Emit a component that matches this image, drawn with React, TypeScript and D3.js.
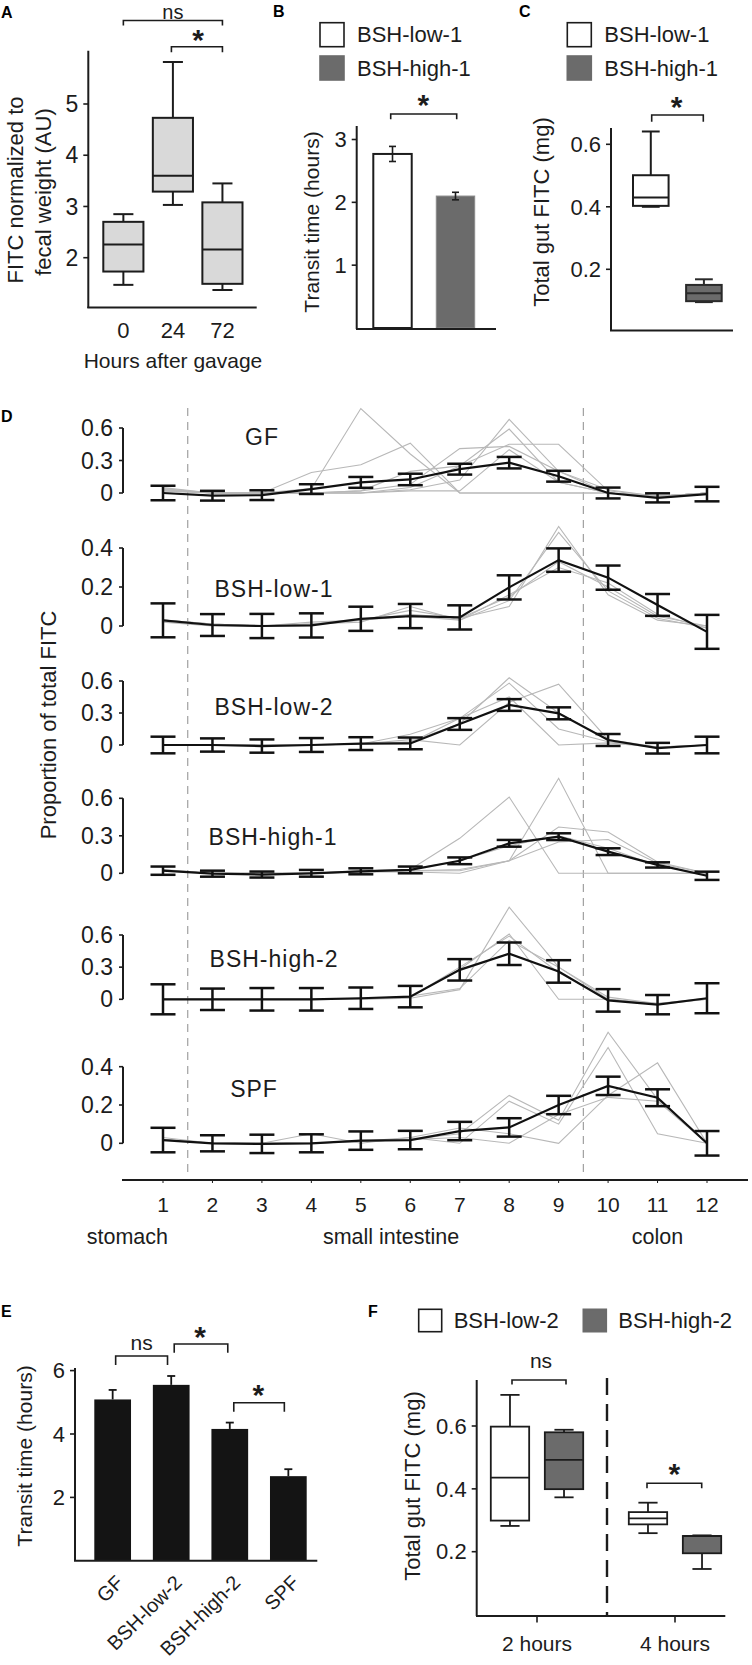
import React from "react";
import * as d3 from "d3";

const FONT = "'Liberation Sans', Arial, Helvetica, sans-serif";
const INK = "#1c1c1c";
const DARK_GRAY = "#6b6b6b";
const LIGHT_FILL = "#d9d9d9";
const MOUSE_GRAY = "#b8b8b8";

// ---------- Panel A ----------
const aHours = ["0", "24", "72"];
const aMin = [1.47, 3.03, 1.37];
const aQ1 = [1.73, 3.29, 1.49];
const aMedian = [2.26, 3.6, 2.16];
const aQ3 = [2.7, 4.73, 3.08];
const aMax = [2.85, 5.82, 3.45];
const aTicks = [2, 3, 4, 5];

// ---------- Panel B ----------
const bGroups = ["BSH-low-1", "BSH-high-1"];
const bMean = [2.77, 2.1];
const bSem = [0.12, 0.06];
const bTicks = [1, 2, 3];

// ---------- Panel C ----------
const cMin = [0.4, 0.095];
const cQ1 = [0.403, 0.098];
const cMedian = [0.43, 0.123];
const cQ3 = [0.501, 0.15];
const cMax = [0.641, 0.168];
const cTicks = [0.2, 0.4, 0.6];

// ---------- Panel D ----------
const segments = [1, 2, 3, 4, 5, 6, 7, 8, 9, 10, 11, 12];
const regionLabels = ["stomach", "small intestine", "colon"];
const dGroups = ["GF", "BSH-low-1", "BSH-low-2", "BSH-high-1", "BSH-high-2", "SPF"];
const dTicks = [
  [0, 0.3, 0.6],
  [0, 0.2, 0.4],
  [0, 0.3, 0.6],
  [0, 0.3, 0.6],
  [0, 0.3, 0.6],
  [0, 0.2, 0.4],
];

const gfMean = [0.0, -0.025, -0.02, 0.036, 0.098, 0.125, 0.22, 0.28, 0.155, 0.0, -0.045, -0.01];
const gfErr = [0.067, 0.045, 0.045, 0.045, 0.05, 0.053, 0.05, 0.053, 0.05, 0.05, 0.042, 0.067];
const gfMice = [
  [0.04, 0.0, 0.0, 0.04, 0.78, 0.36, 0.0, 0.0, 0.0, 0.0, -0.03, 0.0],
  [0.02, 0.0, 0.0, 0.19, 0.26, 0.46, 0.0, 0.0, 0.0, 0.0, -0.03, 0.0],
  [0.03, 0.0, 0.0, 0.0, 0.0, 0.03, 0.12, 0.68, 0.2, 0.0, -0.03, 0.0],
  [0.02, 0.0, 0.0, 0.0, 0.0, 0.05, 0.25, 0.59, 0.1, 0.0, -0.03, 0.0],
  [0.05, 0.0, 0.0, 0.0, 0.02, 0.08, 0.41, 0.43, 0.2, 0.03, -0.03, 0.0],
  [0.03, 0.0, 0.0, 0.0, 0.02, 0.2, 0.25, 0.45, 0.45, 0.02, -0.03, 0.0],
  [0.03, 0.0, 0.0, 0.0, 0.0, 0.02, 0.02, 0.4, 0.1, 0.0, -0.03, 0.0],
];

const low1Mean = [0.029, 0.005, 0.0, 0.003, 0.037, 0.051, 0.044, 0.198, 0.338, 0.248, 0.108, -0.03];
const low1Err = [0.087, 0.056, 0.062, 0.062, 0.062, 0.062, 0.062, 0.062, 0.06, 0.062, 0.056, 0.087];
const low1Mice = [
  [0.03, 0.01, 0.0, 0.01, 0.03, 0.08, 0.04, 0.1, 0.51, 0.16, 0.03, 0.0],
  [0.03, 0.01, 0.0, 0.01, 0.02, 0.1, 0.03, 0.13, 0.48, 0.18, 0.04, -0.01],
  [0.03, 0.01, 0.0, 0.01, 0.03, 0.06, 0.04, 0.15, 0.33, 0.2, 0.05, 0.0],
  [0.02, 0.0, 0.0, 0.02, 0.03, 0.05, 0.03, 0.16, 0.3, 0.22, 0.06, -0.01],
];

const low2Mean = [0.0, 0.0, -0.01, 0.0, 0.013, 0.015, 0.197, 0.375, 0.297, 0.047, -0.03, 0.0];
const low2Err = [0.078, 0.062, 0.062, 0.065, 0.06, 0.055, 0.055, 0.055, 0.056, 0.056, 0.05, 0.078];
const low2Mice = [
  [0.0, 0.0, 0.0, 0.0, 0.01, 0.03, 0.2, 0.63, 0.3, 0.05, -0.02, 0.0],
  [0.0, 0.0, 0.0, 0.0, 0.01, 0.02, 0.25, 0.58, 0.15, 0.03, -0.02, 0.0],
  [0.0, 0.0, 0.0, 0.0, 0.01, 0.05, 0.0, 0.4, 0.57, 0.05, -0.03, 0.0],
  [0.0, 0.0, 0.0, 0.0, 0.01, 0.1, 0.25, 0.45, 0.0, 0.02, -0.02, 0.0],
];

const high1Mean = [0.021, -0.003, -0.01, 0.0, 0.016, 0.027, 0.1, 0.24, 0.293, 0.173, 0.067, -0.02];
const high1Err = [0.033, 0.024, 0.024, 0.027, 0.024, 0.027, 0.027, 0.027, 0.027, 0.027, 0.021, 0.033];
const high1Mice = [
  [0.03, 0.0, 0.0, 0.0, 0.02, 0.03, 0.28, 0.61, 0.0, 0.0, 0.0, 0.0],
  [0.02, 0.0, 0.0, 0.0, 0.01, 0.02, 0.03, 0.1, 0.76, 0.0, 0.0, 0.0],
  [0.02, 0.0, 0.0, 0.0, 0.01, 0.02, 0.02, 0.1, 0.37, 0.33, 0.09, 0.0],
  [0.02, 0.0, 0.0, 0.0, 0.01, 0.01, 0.0, 0.1, 0.25, 0.27, 0.08, 0.0],
  [0.02, 0.0, -0.01, 0.0, 0.02, 0.03, 0.1, 0.22, 0.3, 0.2, 0.06, -0.01],
];

const high2Mean = [0.0, 0.0, 0.0, 0.0, 0.01, 0.025, 0.275, 0.425, 0.26, -0.01, -0.05, 0.01];
const high2Err = [0.14, 0.1, 0.105, 0.105, 0.1, 0.1, 0.1, 0.105, 0.105, 0.105, 0.09, 0.14];
const high2Mice = [
  [0.0, 0.0, 0.0, 0.0, 0.0, 0.01, 0.09, 0.86, 0.3, 0.0, -0.04, 0.0],
  [0.0, 0.0, 0.0, 0.0, 0.0, 0.02, 0.28, 0.61, 0.0, 0.0, -0.04, 0.0],
  [0.0, 0.0, 0.0, 0.0, 0.01, 0.02, 0.3, 0.59, 0.25, 0.0, -0.05, 0.0],
  [0.0, 0.0, 0.0, 0.0, 0.0, 0.03, 0.1, 0.55, 0.3, 0.02, -0.04, 0.01],
];

const spfMean = [0.017, 0.0, -0.003, 0.0, 0.014, 0.017, 0.064, 0.083, 0.2, 0.3, 0.238, 0.0];
const spfErr = [0.064, 0.042, 0.048, 0.047, 0.048, 0.048, 0.048, 0.048, 0.048, 0.048, 0.044, 0.064];
const spfMice = [
  [0.03, 0.0, 0.0, 0.0, 0.01, 0.02, 0.05, 0.25, 0.12, 0.58, 0.23, 0.0],
  [0.02, 0.0, 0.0, 0.05, 0.0, 0.03, 0.0, 0.22, 0.1, 0.5, 0.05, 0.0],
  [0.02, 0.0, 0.0, 0.0, 0.01, 0.03, 0.08, 0.05, 0.0, 0.25, 0.42, 0.0],
  [0.02, 0.0, 0.0, 0.0, 0.01, 0.02, 0.03, 0.0, 0.15, 0.24, 0.22, 0.0],
];

const dMeans = [gfMean, low1Mean, low2Mean, high1Mean, high2Mean, spfMean];
const dErrs = [gfErr, low1Err, low2Err, high1Err, high2Err, spfErr];
const dMice = [gfMice, low1Mice, low2Mice, high1Mice, high2Mice, spfMice];

// ---------- Panel E ----------
const eGroups = ["GF", "BSH-low-2", "BSH-high-2", "SPF"];
const eMean = [5.09, 5.55, 4.16, 2.67];
const eSem = [0.3, 0.28, 0.2, 0.22];
const eTicks = [2, 4, 6];

// ---------- Panel F ----------
const fTimes = ["2 hours", "4 hours"];
const fGroups = ["BSH-low-2", "BSH-high-2"];
const fLowMin = [0.282, 0.259];
const fLowQ1 = [0.299, 0.287];
const fLowMedian = [0.436, 0.306];
const fLowQ3 = [0.598, 0.326];
const fLowMax = [0.699, 0.356];
const fHighMin = [0.373, 0.145];
const fHighQ1 = [0.399, 0.195];
const fHighMedian = [0.492, 0.25];
const fHighQ3 = [0.58, 0.25];
const fHighMax = [0.588, 0.252];
const fTicks = [0.2, 0.4, 0.6];

// ---------- layout ----------
const dLayout = [
  { zero: 493, top: 428, lx: 262, ly: 437 },
  { zero: 626, top: 548, lx: 274, ly: 589 },
  { zero: 745, top: 681, lx: 274, ly: 707 },
  { zero: 873.3, top: 798.3, lx: 273, ly: 837 },
  { zero: 999.3, top: 935, lx: 274, ly: 959 },
  { zero: 1143.3, top: 1066.7, lx: 254, ly: 1089 },
];

const T = (props: any) => (
  <text fontFamily={FONT} fill={INK} {...props} />
);

const PanelLetter = ({ x, y, c }: any) => (
  <text x={x} y={y} fontFamily={FONT} fontWeight="bold" fontSize={16} fill="#000">
    {c}
  </text>
);

const Star = ({ x, y }: any) => (
  <text x={x} y={y + 17} textAnchor="middle" fontFamily={FONT} fontWeight="bold" fontSize={30} fill={INK}>
    *
  </text>
);

const Bracket = ({ x1, x2, y, h }: any) => (
  <path d={`M${x1},${y + h}V${y}H${x2}V${y + h}`} fill="none" stroke={INK} strokeWidth={1.6} />
);

const YAxis = ({ x, y1, y2, scale, ticks, fmt, fontSize = 22, tick = 5, gap = 5 }: any) => (
  <g>
    <line x1={x} x2={x} y1={y1} y2={y2} stroke={INK} strokeWidth={2} />
    {ticks.map((t: number) => (
      <g key={t}>
        <line x1={x - tick} x2={x} y1={scale(t)} y2={scale(t)} stroke={INK} strokeWidth={1.6} />
        <T x={x - tick - gap} y={scale(t)} dy="0.35em" textAnchor="end" fontSize={fontSize}>
          {fmt ? fmt(t) : t}
        </T>
      </g>
    ))}
  </g>
);

const Box = ({ cx, w, lo, q1, med, q3, hi, fill, stroke = INK, sw = 2 }: any) => (
  <g>
    <line x1={cx} x2={cx} y1={hi} y2={q3} stroke={stroke} strokeWidth={sw} />
    <line x1={cx} x2={cx} y1={q1} y2={lo} stroke={stroke} strokeWidth={sw} />
    <line x1={cx - w * 0.25} x2={cx + w * 0.25} y1={hi} y2={hi} stroke={stroke} strokeWidth={sw} />
    <line x1={cx - w * 0.25} x2={cx + w * 0.25} y1={lo} y2={lo} stroke={stroke} strokeWidth={sw} />
    <rect x={cx - w / 2} y={q3} width={w} height={Math.max(q1 - q3, 0.5)} fill={fill} stroke={stroke} strokeWidth={sw} />
    <line x1={cx - w / 2} x2={cx + w / 2} y1={med} y2={med} stroke={stroke} strokeWidth={sw} />
  </g>
);

function PanelA() {
  const x = d3.scaleBand<string>().domain(aHours).range([103.3, 242.5]).paddingInner(0.19);
  const y = d3.scaleLinear().domain([2, 5]).range([257.7, 104]);
  const bw = x.bandwidth();
  const cx = (h: string) => (x(h) as number) + bw / 2;
  return (
    <g>
      <PanelLetter x={1} y={18} c="A" />
      <YAxis x={88.3} y1={50.7} y2={308} scale={y} ticks={aTicks} fontSize={23} />
      <line x1={87.3} x2={256.7} y1={307.5} y2={307.5} stroke={INK} strokeWidth={2} />
      {aHours.map((h, i) => (
        <Box key={h} cx={cx(h)} w={bw} lo={y(aMin[i])} q1={y(aQ1[i])} med={y(aMedian[i])}
          q3={y(aQ3[i])} hi={y(aMax[i])} fill={LIGHT_FILL} />
      ))}
      {aHours.map((h) => (
        <T key={h} x={cx(h)} y={330} dy="0.35em" textAnchor="middle" fontSize={22}>{h}</T>
      ))}
      <T x={173} y={361} dy="0.35em" textAnchor="middle" fontSize={21}>Hours after gavage</T>
      <T transform="translate(15,190) rotate(-90)" dy="0.35em" textAnchor="middle" fontSize={22}>FITC normalized to</T>
      <T transform="translate(43,192) rotate(-90)" dy="0.35em" textAnchor="middle" fontSize={22}>fecal weight (AU)</T>
      <Bracket x1={cx("0")} x2={cx("72")} y={20.5} h={5} />
      <T x={(cx("0") + cx("72")) / 2} y={18.5} textAnchor="middle" fontSize={20}>ns</T>
      <Bracket x1={cx("24") - 1.5} x2={cx("72")} y={46.7} h={5.6} />
      <Star x={198} y={33} />
    </g>
  );
}

const Legend = ({ x, y, labels }: any) => (
  <g>
    {labels.map((l: string, i: number) => (
      <g key={l}>
        <rect x={x} y={y + i * 33.3} width={24} height={24}
          fill={i === 0 ? "#fff" : DARK_GRAY} stroke={i === 0 ? INK : DARK_GRAY} strokeWidth={1.6} />
        <T x={x + 37} y={y + 12 + i * 33.3} dy="0.35em" fontSize={22}>{l}</T>
      </g>
    ))}
  </g>
);

function PanelB() {
  const x = d3.scaleBand<string>().domain(bGroups).range([373.3, 474.7]).paddingInner(0.39);
  const y = d3.scaleLinear().domain([0, 3]).range([328, 139.5]);
  const bw = x.bandwidth();
  return (
    <g>
      <PanelLetter x={273} y={17} c="B" />
      <Legend x={320} y={22.7} labels={bGroups} />
      <YAxis x={356.7} y1={126} y2={329} scale={y} ticks={bTicks} fontSize={22} />
      {bGroups.map((g, i) => {
        const x0 = x(g) as number;
        const cx = x0 + bw / 2;
        return (
          <g key={g}>
            <rect x={x0} y={y(bMean[i])} width={bw} height={y(0) - y(bMean[i])}
              fill={i === 0 ? "#fff" : DARK_GRAY} stroke={i === 0 ? INK : "#8a8a8a"} strokeWidth={i === 0 ? 2 : 1} />
            <line x1={cx} x2={cx} y1={y(bMean[i] - bSem[i])} y2={y(bMean[i] + bSem[i])} stroke={INK} strokeWidth={1.6} />
            <line x1={cx - 3.5} x2={cx + 3.5} y1={y(bMean[i] + bSem[i])} y2={y(bMean[i] + bSem[i])} stroke={INK} strokeWidth={1.6} />
            <line x1={cx - 3.5} x2={cx + 3.5} y1={y(bMean[i] - bSem[i])} y2={y(bMean[i] - bSem[i])} stroke={INK} strokeWidth={1.6} />
          </g>
        );
      })}
      <line x1={356} x2={496} y1={329} y2={329} stroke={INK} strokeWidth={2} />
      <T transform="translate(311.7,222) rotate(-90)" dy="0.35em" textAnchor="middle" fontSize={21}>Transit time (hours)</T>
      <Bracket x1={390.7} x2={456.7} y={114} h={5.3} />
      <Star x={423.3} y={98} />
    </g>
  );
}

function PanelC() {
  const x = d3.scaleBand<string>().domain(bGroups).range([633, 721.7]).paddingInner(0.33);
  const y = d3.scaleLinear().domain([0.2, 0.6]).range([269.3, 144.3]);
  const bw = x.bandwidth();
  return (
    <g>
      <PanelLetter x={519} y={17} c="C" />
      <Legend x={567.3} y={22.7} labels={bGroups} />
      <YAxis x={611} y1={128} y2={331} scale={y} ticks={cTicks} fontSize={22} fmt={(t: number) => t.toFixed(1)} />
      <line x1={610} x2={733} y1={330.5} y2={330.5} stroke={INK} strokeWidth={2} />
      {bGroups.map((g, i) => (
        <Box key={g} cx={(x(g) as number) + bw / 2} w={bw} lo={y(cMin[i])} q1={y(cQ1[i])}
          med={y(cMedian[i])} q3={y(cQ3[i])} hi={y(cMax[i])} fill={i === 0 ? "#fff" : DARK_GRAY}
          stroke={i === 0 ? INK : "#2a2a2a"} />
      ))}
      <T transform="translate(541.7,212) rotate(-90)" dy="0.35em" textAnchor="middle" fontSize={22}>Total gut FITC (mg)</T>
      <Bracket x1={651.7} x2={703.3} y={115} h={6.7} />
      <Star x={676.7} y={100} />
    </g>
  );
}

function PanelD() {
  const x = d3.scaleLinear().domain([1, 12]).range([163, 707]);
  const axisX = 123;
  return (
    <g>
      <PanelLetter x={1} y={422} c="D" />
      {[1.5, 9.5].map((v) => (
        <line key={v} x1={x(v)} x2={x(v)} y1={408} y2={1176} stroke="#a0a0a0" strokeWidth={1.2} strokeDasharray="8,6" />
      ))}
      {dGroups.map((g, gi) => {
        const L = dLayout[gi];
        const ticks = dTicks[gi];
        const y = d3.scaleLinear().domain([0, ticks[2]]).range([L.zero, L.top]);
        const line = d3.line<number>().x((_, i) => x(segments[i])).y((v) => y(v));
        const mean = dMeans[gi];
        const err = dErrs[gi];
        return (
          <g key={g}>
            <YAxis x={axisX} y1={L.top} y2={L.zero} scale={y} ticks={ticks} fontSize={23} tick={4} gap={6} />
            {dMice[gi].map((m, mi) => (
              <path key={mi} d={line(m) as string} fill="none" stroke={MOUSE_GRAY} strokeWidth={1.1} />
            ))}
            <path d={line(mean) as string} fill="none" stroke="#111" strokeWidth={2.2} />
            {segments.map((s, i) => {
              const cx = x(s);
              const yt = y(mean[i] + err[i]);
              const yb = y(mean[i] - err[i]);
              return (
                <g key={s} stroke="#111" strokeWidth={2.5}>
                  <line x1={cx} x2={cx} y1={yt} y2={yb} />
                  <line x1={cx - 12.5} x2={cx + 12.5} y1={yt} y2={yt} />
                  <line x1={cx - 12.5} x2={cx + 12.5} y1={yb} y2={yb} />
                </g>
              );
            })}
            <T x={L.lx} y={L.ly} dy="0.35em" textAnchor="middle" fontSize={23} letterSpacing={1}>{g}</T>
          </g>
        );
      })}
      <line x1={122} x2={748} y1={1180} y2={1180} stroke={INK} strokeWidth={2} />
      {segments.map((s) => (
        <g key={s}>
          <line x1={x(s)} x2={x(s)} y1={1180} y2={1183} stroke={INK} strokeWidth={1} />
          <T x={x(s)} y={1205} dy="0.35em" textAnchor="middle" fontSize={21}>{s}</T>
        </g>
      ))}
      <T x={168} y={1236.7} dy="0.35em" textAnchor="end" fontSize={21.5}>{regionLabels[0]}</T>
      <T x={391} y={1236.7} dy="0.35em" textAnchor="middle" fontSize={21.5}>{regionLabels[1]}</T>
      <T x={x(11)} y={1236.7} dy="0.35em" textAnchor="middle" fontSize={21.5}>{regionLabels[2]}</T>
      <T transform="translate(48,725) rotate(-90)" dy="0.35em" textAnchor="middle" fontSize={22}>Proportion of total FITC</T>
    </g>
  );
}

function PanelE() {
  const x = d3.scaleBand<string>().domain(eGroups).range([94.3, 306.7]).paddingInner(0.373);
  const y = d3.scaleLinear().domain([0, 6]).range([1560.8, 1370.6]);
  const bw = x.bandwidth();
  const cx = (g: string) => (x(g) as number) + bw / 2;
  return (
    <g>
      <PanelLetter x={1} y={1317} c="E" />
      <YAxis x={75} y1={1368} y2={1561} scale={y} ticks={eTicks} fontSize={22} />
      {eGroups.map((g, i) => (
        <g key={g}>
          <rect x={x(g) as number} y={y(eMean[i])} width={bw} height={y(0) - y(eMean[i])} fill="#141414" />
          <line x1={cx(g)} x2={cx(g)} y1={y(eMean[i])} y2={y(eMean[i] + eSem[i])} stroke="#141414" strokeWidth={1.8} />
          <line x1={cx(g) - 4} x2={cx(g) + 4} y1={y(eMean[i] + eSem[i])} y2={y(eMean[i] + eSem[i])} stroke="#141414" strokeWidth={1.8} />
          <T transform={`translate(${cx(g) + 7},${1579}) rotate(-45)`} dy="0.35em" textAnchor="end" fontSize={20}>{g}</T>
        </g>
      ))}
      <line x1={74} x2={317.3} y1={1560.7} y2={1560.7} stroke={INK} strokeWidth={2} />
      <T transform="translate(25,1456) rotate(-90)" dy="0.35em" textAnchor="middle" fontSize={21}>Transit time (hours)</T>
      <Bracket x1={cx("GF") + 3} x2={cx("BSH-low-2") - 3.7} y={1356} h={9} />
      <T x={141.7} y={1350} textAnchor="middle" fontSize={21}>ns</T>
      <Bracket x1={cx("BSH-low-2") + 3} x2={cx("BSH-high-2") - 2} y={1344} h={8.7} />
      <Star x={200} y={1330} />
      <Bracket x1={cx("BSH-high-2") + 4} x2={cx("SPF") - 4} y={1402.7} h={9} />
      <Star x={258.3} y={1388.3} />
    </g>
  );
}

function PanelF() {
  const xt = d3.scalePoint<string>().domain(fTimes).range([537, 675]);
  const xg = d3.scaleBand<string>().domain(fGroups).range([-46.2, 46.2]).paddingInner(0.29);
  const y = d3.scaleLinear().domain([0.2, 0.6]).range([1551.7, 1426]);
  const bw = xg.bandwidth();
  const low = { min: fLowMin, q1: fLowQ1, med: fLowMedian, q3: fLowQ3, max: fLowMax };
  const high = { min: fHighMin, q1: fHighQ1, med: fHighMedian, q3: fHighQ3, max: fHighMax };
  const sets = [low, high];
  return (
    <g>
      <PanelLetter x={368} y={1317} c="F" />
      {fGroups.map((g, i) => (
        <g key={g}>
          <rect x={i === 0 ? 418.7 : 583.3} y={1309.3} width={23} height={22.4}
            fill={i === 0 ? "#fff" : DARK_GRAY} stroke={i === 0 ? INK : DARK_GRAY} strokeWidth={1.6} />
          <T x={i === 0 ? 453.7 : 618.3} y={1320.5} dy="0.35em" fontSize={22}>{g}</T>
        </g>
      ))}
      <YAxis x={476.7} y1={1380} y2={1616} scale={y} ticks={fTicks} fontSize={22} fmt={(t: number) => t.toFixed(1)} />
      <line x1={476} x2={725.3} y1={1616} y2={1616} stroke={INK} strokeWidth={2} />
      <line x1={607} x2={607} y1={1378} y2={1616} stroke={INK} strokeWidth={2.4} strokeDasharray="17,9" />
      {fTimes.map((t, ti) => (
        <g key={t}>
          <line x1={xt(t)} x2={xt(t)} y1={1616} y2={1622.5} stroke={INK} strokeWidth={1.6} />
          <T x={xt(t)} y={1644} dy="0.35em" textAnchor="middle" fontSize={21}>{t}</T>
          {fGroups.map((g, gi) => {
            const s = sets[gi];
            const cx = (xt(t) as number) + (xg(g) as number) + bw / 2;
            return (
              <Box key={g} cx={cx} w={bw} lo={y(s.min[ti])} q1={y(s.q1[ti])} med={y(s.med[ti])}
                q3={y(s.q3[ti])} hi={y(s.max[ti])} fill={gi === 0 ? "#fff" : DARK_GRAY} sw={1.8} />
            );
          })}
        </g>
      ))}
      <T transform="translate(412.7,1486) rotate(-90)" dy="0.35em" textAnchor="middle" fontSize={22}>Total gut FITC (mg)</T>
      <Bracket x1={512} x2={566} y={1380} h={4.5} />
      <T x={541} y={1368} textAnchor="middle" fontSize={21}>ns</T>
      <Bracket x1={647} x2={701.7} y={1483.3} h={5} />
      <Star x={674.3} y={1466.7} />
    </g>
  );
}

export default function App() {
  return (
    <svg width={752} height={1665} viewBox="0 0 752 1665"
      style={{ position: "absolute", left: 0, top: 0, background: "#fff" }}>
      <rect width={752} height={1665} fill="#fff" />
      <PanelA />
      <PanelB />
      <PanelC />
      <PanelD />
      <PanelE />
      <PanelF />
    </svg>
  );
}
